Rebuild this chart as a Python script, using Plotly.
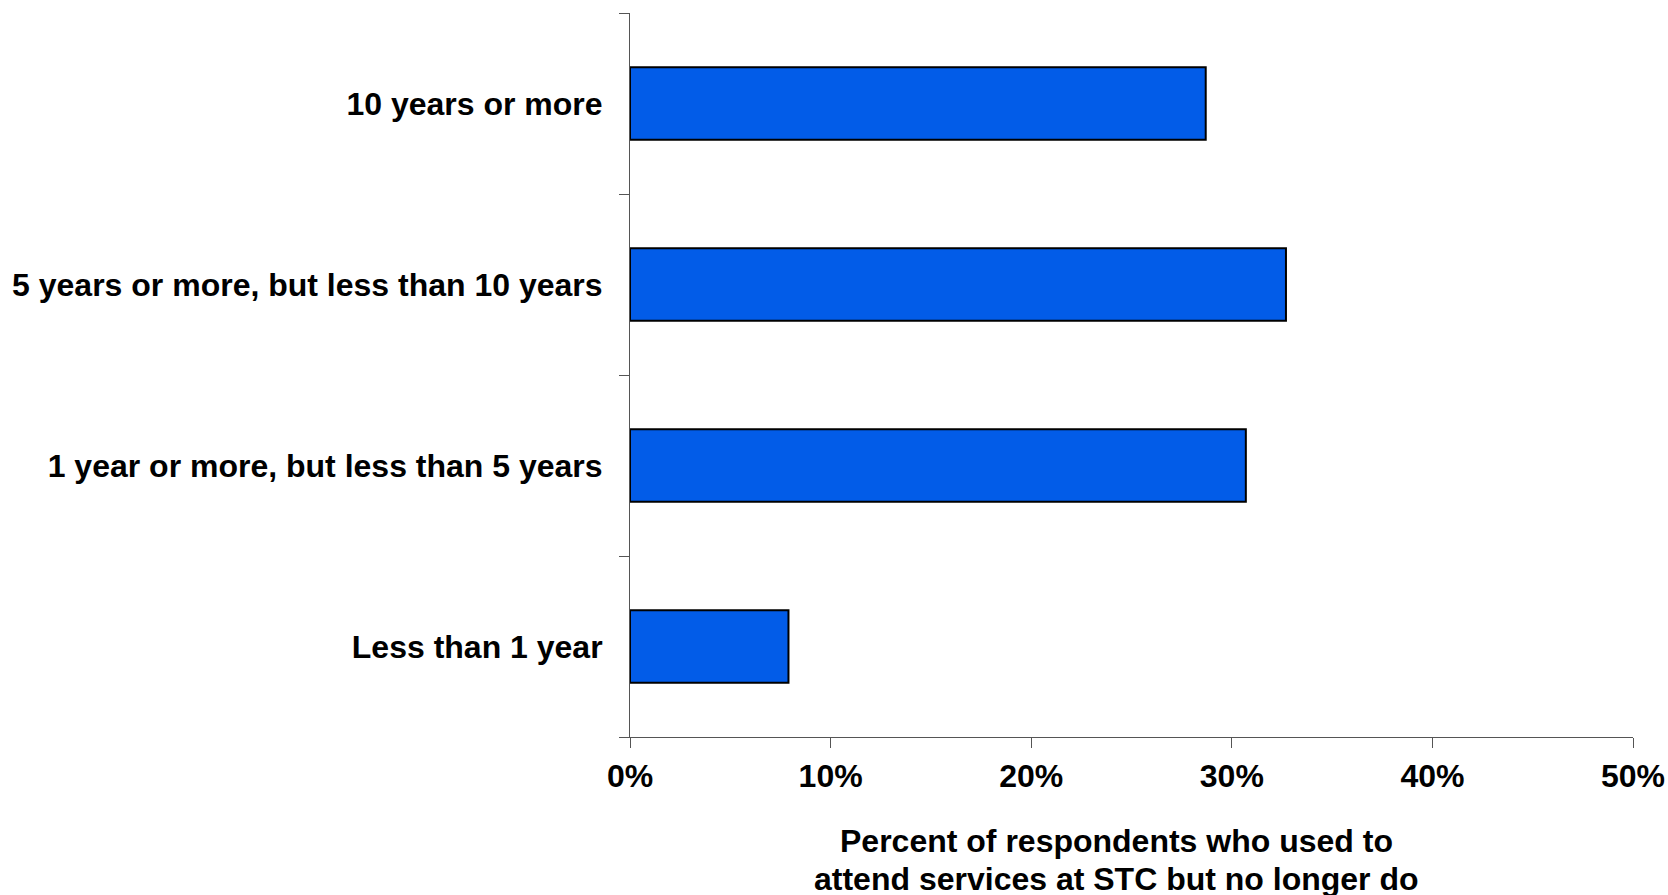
import plotly.graph_objects as go

categories = ["Less than 1 year", "1 year or more, but less than 5 years",
              "5 years or more, but less than 10 years", "10 years or more"]
values = [0.079, 0.307, 0.327, 0.287]
x_title_lines = ["Percent of respondents who used to", "attend services at STC but no longer do"]

FONT = "Liberation Sans, Arial, sans-serif"

fig = go.Figure(go.Bar(
    x=values, y=categories, orientation="h", width=0.4,
    marker=dict(color="#025CE8", line=dict(color="#000000", width=2)),
))

title_y = [-0.1436, -0.1957]
annotations = [dict(text="<b>%s</b>" % s, xref="paper", yref="paper", x=0.485, y=yy,
                    xanchor="center", yanchor="middle", showarrow=False,
                    font=dict(family=FONT, size=32, color="black"))
               for s, yy in zip(x_title_lines, title_y)]

fig.update_layout(
    width=1668, height=895,
    margin=dict(l=630, r=35, t=13, b=158),
    paper_bgcolor="white", plot_bgcolor="white",
    showlegend=False,
    font=dict(family=FONT, size=32, color="black"),
    xaxis=dict(range=[0, 0.5], dtick=0.1, tickformat=".0%", showgrid=False,
               zeroline=False, showline=True, linecolor="#555", linewidth=1,
               ticks="outside", ticklen=10, tickcolor="#555", automargin=False,
               tickfont=dict(family=FONT, size=32, color="black", weight="bold"),
               ticklabelstandoff=1),
    yaxis=dict(range=[-0.5, 3.5], showgrid=False, zeroline=False, showline=True,
               linecolor="#555", linewidth=1, ticks="outside", ticklen=10,
               tickcolor="#555", tickson="boundaries", automargin=False,
               tickfont=dict(family=FONT, size=32, color="black", weight="bold"),
               ticklabelstandoff=20),
    annotations=annotations,
)

fig.write_html("out.html", config={"displayModeBar": False},
               post_script="document.body.style.margin='0px';"
                           "document.body.style.overflow='hidden';")
